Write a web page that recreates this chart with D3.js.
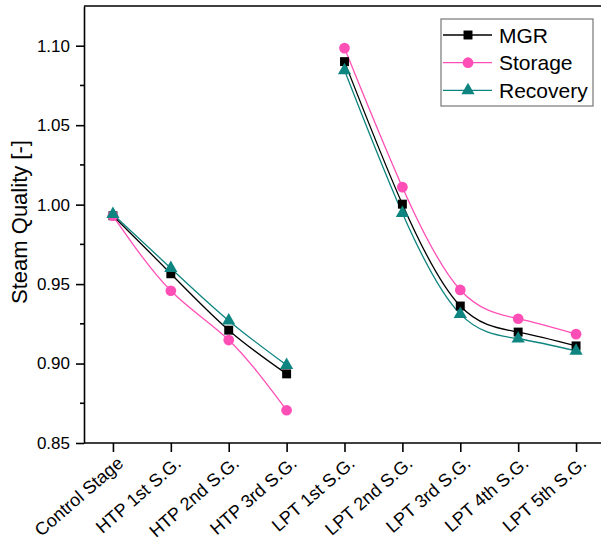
<!DOCTYPE html>
<html>
<head>
<meta charset="utf-8">
<script src="https://cdn.jsdelivr.net/npm/d3@7"></script>
<style>
  body { margin: 0; background: #fff; }
  text { font-family: "Liberation Sans", Arial, sans-serif; fill: #000; }
</style>
</head>
<body>
<svg id="chart" width="601" height="542"></svg>
<script>
const stages = ["Control Stage", "HTP 1st S.G.", "HTP 2nd S.G.", "HTP 3rd S.G.",
  "LPT 1st S.G.", "LPT 2nd S.G.", "LPT 3rd S.G.", "LPT 4th S.G.", "LPT 5th S.G."];
const mgr      = [0.993, 0.9565, 0.921, 0.8935, 1.090, 1.0003, 0.9362, 0.9198, 0.9111];
const storage  = [0.993, 0.9458, 0.9148, 0.8706, 1.0985, 1.011, 0.9463, 0.9282, 0.9185];
const recovery = [0.994, 0.960, 0.927, 0.899, 1.0845, 0.9946, 0.9311, 0.9156, 0.908];
const yTicks = [0.85, 0.90, 0.95, 1.00, 1.05, 1.10];
const yMinor = [0.875, 0.925, 0.975, 1.025, 1.075];
// the two turbine groups are drawn as separate curves
const groups = [[0, 1, 2, 3], [4, 5, 6, 7, 8]];

const series = [
  { name: "MGR", values: mgr, color: "#000000", symbol: d3.symbolSquare, size: 80 },
  { name: "Storage", values: storage, color: "#ff4fb6", symbol: d3.symbolCircle, size: 90 },
  { name: "Recovery", values: recovery, color: "#0e8580", symbol: d3.symbolTriangle, size: 75 }
];

const svg = d3.select("#chart");
const width = 601, height = 542;
const margin = { top: 6, right: -4, bottom: 99, left: 84 };

const x = d3.scalePoint()
  .domain(stages)
  .range([margin.left, width - margin.right])
  .padding(0.5);

const y = d3.scaleLinear()
  .domain([0.85, 1.125])
  .range([height - margin.bottom, margin.top]);

// Lines
const line = d3.line()
  .x(i => x(stages[i]))
  .curve(d3.curveNatural);

series.forEach(s => {
  groups.forEach(g => {
    svg.append("path")
      .datum(g)
      .attr("fill", "none")
      .attr("stroke", s.color)
      .attr("stroke-width", 1.3)
      .attr("d", line.y(i => y(s.values[i])));
  });
});

// Points
series.forEach(s => {
  svg.append("g")
    .selectAll("path")
    .data(s.values)
    .join("path")
    .attr("transform", (d, i) => `translate(${x(stages[i])},${y(d)})`)
    .attr("d", d3.symbol().type(s.symbol).size(s.size))
    .attr("fill", s.color);
});

// Axes
const xAxis = svg.append("g")
  .attr("transform", `translate(0,${height - margin.bottom})`)
  .call(d3.axisBottom(x).tickSize(9).tickSizeOuter(0));
xAxis.select(".domain").attr("stroke-width", 1.6).attr("d", `M${margin.left},0H${width}`);
xAxis.selectAll(".tick line").attr("stroke-width", 1.6);
xAxis.selectAll(".tick text")
  .attr("font-size", 18)
  .attr("text-anchor", "end")
  .attr("x", 0)
  .attr("y", 0)
  .attr("dy", 0)
  .attr("transform", "translate(11,22) rotate(-41)");

const yAxis = svg.append("g")
  .attr("transform", `translate(${margin.left},0)`)
  .call(d3.axisLeft(y).tickValues(yTicks).tickFormat(d3.format(".2f")).tickSize(8).tickPadding(6).tickSizeOuter(0));
yAxis.select(".domain").attr("stroke-width", 1.6);
yAxis.selectAll(".tick line").attr("stroke-width", 1.6);
yAxis.selectAll(".tick text").attr("font-size", 17);

svg.append("g")
  .selectAll("line")
  .data(yMinor)
  .join("line")
  .attr("x1", margin.left - 4)
  .attr("x2", margin.left)
  .attr("y1", d => y(d))
  .attr("y2", d => y(d))
  .attr("stroke", "#000")
  .attr("stroke-width", 1.6);

// top frame
svg.append("line")
  .attr("x1", margin.left)
  .attr("x2", width)
  .attr("y1", margin.top)
  .attr("y2", margin.top)
  .attr("stroke", "#000")
  .attr("stroke-width", 1.6);

// Y-axis label
svg.append("text")
  .attr("transform", "rotate(-90)")
  .attr("x", -222)
  .attr("y", 27)
  .attr("text-anchor", "middle")
  .attr("font-size", 22)
  .text("Steam Quality [-]");

// Legend
const legend = svg.append("g").attr("transform", "translate(441,19)");
legend.append("rect")
  .attr("width", 152)
  .attr("height", 87)
  .attr("fill", "#fff")
  .attr("stroke", "#777")
  .attr("stroke-width", 1.2);

series.forEach((s, i) => {
  const ly = 16 + i * 27.7;
  legend.append("line")
    .attr("x1", 2).attr("x2", 51)
    .attr("y1", ly).attr("y2", ly)
    .attr("stroke", s.color)
    .attr("stroke-width", 1.3);
  legend.append("path")
    .attr("transform", `translate(27,${ly})`)
    .attr("d", d3.symbol().type(s.symbol).size(s.size))
    .attr("fill", s.color);
  legend.append("text")
    .attr("x", 58)
    .attr("y", ly)
    .attr("dy", "0.36em")
    .attr("font-size", 21)
    .text(s.name);
});
</script>
</body>
</html>
